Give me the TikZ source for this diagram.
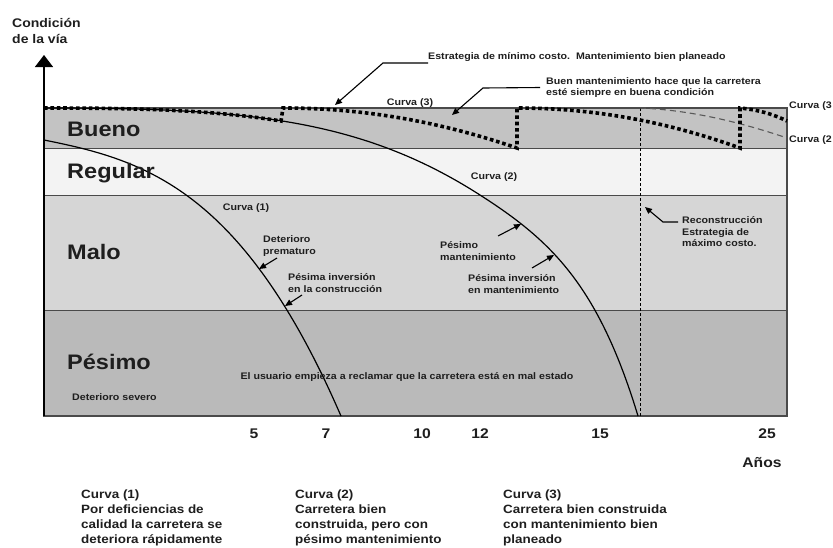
\documentclass[tikz,border=0pt]{standalone}
\usepackage{fontspec}
\setmainfont{Liberation Sans}[FakeStretch=1.12]
\usetikzlibrary{arrows.meta}
\definecolor{txt}{HTML}{1E1E1E}
\definecolor{bueno}{HTML}{C3C3C3}
\definecolor{regular}{HTML}{F3F3F3}
\definecolor{malo}{HTML}{D6D6D6}
\definecolor{pesimo}{HTML}{BABABA}
\definecolor{edge}{HTML}{4A4A4A}
\tikzset{
  big/.style={font=\bfseries\fontsize{21}{24}\selectfont, anchor=west, inner sep=0pt, text=txt},
  sm/.style={font=\bfseries\fontsize{9.5}{11.5}\selectfont, align=left, inner sep=0pt, text=txt},
  ticklab/.style={font=\bfseries\fontsize{14}{16}\selectfont, inner sep=0pt, text=txt},
  note/.style={font=\bfseries\fontsize{12}{15}\selectfont, align=left, anchor=west, inner sep=0pt, text=txt},
  curve/.style={line width=1.2pt, black},
  dotc/.style={line width=3.6pt, dash pattern=on 3.6pt off 2.8pt, black},
  lead/.style={line width=1.1pt, black, -{Triangle[length=7pt,width=6pt]}},
  bandline/.style={line width=1pt, edge},
}
\begin{document}
\begin{tikzpicture}[x=1pt,y=-1pt]
\useasboundingbox (0,0) rectangle (833,547);
% bands
\fill[bueno] (44,108) rectangle (787,148);
\fill[regular] (44,148) rectangle (787,195);
\fill[malo] (44,195) rectangle (787,310);
\fill[pesimo] (44,310) rectangle (787,416);
\draw[bandline] (44,148) -- (787,148);
\draw[bandline] (44,195) -- (787,195);
\draw[bandline] (44,310) -- (787,310);
\draw[line width=1.2pt, edge] (44,108) rectangle (787,416);
% axis
\draw[line width=1.3pt, black, -{Triangle[length=12pt,width=18pt]}] (44,416) -- (44,55);
\node[sm, font=\bfseries\fontsize{12.5}{16}\selectfont, anchor=west] (cond) at (12,31) {Condición\\de la vía};

% reconstruction line
\draw[line width=1pt, black, dash pattern=on 3pt off 2pt] (640,108) -- (640,416);
% thin dashed curve after reconstruction
\draw[line width=1.1pt, black!65, dash pattern=on 6pt off 4pt] (640,108) .. controls (690,110) and (740,122) .. (787,138);

% curve 1
\draw[curve] plot[domain=0:2.97, samples=100] ({44+100*\x}, {140+20*\x+2.67*\x*\x+7.37*\x*\x*\x});
% curve 2
\draw[curve] (44,108) .. controls (244,108) and (360,118) .. (480,195)
  .. controls (550,239.8) and (598,284) .. (638,416);
% curve 3 (dotted)
\draw[dotc] (44,108) .. controls (138,108) and (213,110) .. (281,121) -- (283,108)
  .. controls (362,108) and (438,121) .. (517,148) -- (517,108)
  .. controls (592,108) and (665,121) .. (740,148) -- (740,108)
  .. controls (760,110) and (775,115) .. (787,121);

% band labels
\node[big] (bueno) at (67,129) {Bueno};
\node[big] (regular) at (67,173) {Regular};
\node[big] (malo) at (67,252) {Malo};
\node[big] (pesimo) at (67,362) {Pésimo};
\node[sm, anchor=west] (sev) at (72,397) {Deterioro severo};

% curve labels
\node[sm] (c1) at (246,208) {Curva (1)};
\node[sm] (c2) at (494,177) {Curva (2)};
\node[sm] (c3) at (410,103) {Curva (3)};
\node[sm, anchor=west] (c3r) at (789,106) {Curva (3};
\node[sm, anchor=west] (c2r) at (789,140) {Curva (2};

% callouts
\node[sm, anchor=west] (est) at (428,57) {Estrategia de mínimo costo.\ \ Mantenimiento bien planeado};
\coordinate (k1) at (383,63);
\coordinate (a1) at (335,105);
\draw[lead] (est.west |- k1) -- (k1) -- (a1);

\node[sm, anchor=west] (buen) at (546,87.5) {Buen mantenimiento hace que la carretera\\esté siempre en buena condición};
\coordinate (k2) at (483,88);
\coordinate (a2) at (452,115);
\draw[lead] ([xshift=-6pt]buen.west) -- (k2) -- (a2);

\node[sm, anchor=west] (rec) at (682,232) {Reconstrucción\\Estrategia de\\máximo costo.};
\coordinate (k3) at (663,222);
\coordinate (a3) at (645,207);
\draw[lead] ([xshift=-4pt]rec.west |- k3) -- (k3) -- (a3);

\node[sm, anchor=west] (prem) at (263,246) {Deterioro\\prematuro};
\coordinate (s4) at (277,258);
\coordinate (a4) at (259,269);
\draw[lead] (s4) -- (a4);

\node[sm, anchor=west] (pic) at (288,283) {Pésima inversión\\en la construcción};
\coordinate (s5) at (302,295);
\coordinate (a5) at (285,306);
\draw[lead] (s5) -- (a5);

\node[sm, anchor=west] (pm) at (440,251) {Pésimo\\mantenimiento};
\coordinate (s6) at (498,236);
\coordinate (a6) at (521,224);
\draw[lead] (s6) -- (a6);

\node[sm, anchor=west] (pim) at (468,284) {Pésima inversión\\en mantenimiento};
\coordinate (s7) at (532,268);
\coordinate (a7) at (554,255);
\draw[lead] (s7) -- (a7);

\node[sm] (usr) at (407,377) {El usuario empieza a reclamar que la carretera está en mal estado};

% ticks
\node[ticklab] (t5) at (254,434) {5};
\node[ticklab] (t7) at (326,434) {7};
\node[ticklab] (t10) at (422,434) {10};
\node[ticklab] (t12) at (480,434) {12};
\node[ticklab] (t15) at (600,434) {15};
\node[ticklab] (t25) at (767,434) {25};
\node[ticklab] (anos) at (762,463) {Años};

% notes
\node[note] (n1) at (81,517.5) {Curva (1)\\Por deficiencias de\\calidad la carretera se\\deteriora rápidamente};
\node[note] (n2) at (295,517.5) {Curva (2)\\Carretera bien\\construida, pero con\\pésimo mantenimiento};
\node[note] (n3) at (503,517.5) {Curva (3)\\Carretera bien construida\\con mantenimiento bien\\planeado};
\end{tikzpicture}
\end{document}
